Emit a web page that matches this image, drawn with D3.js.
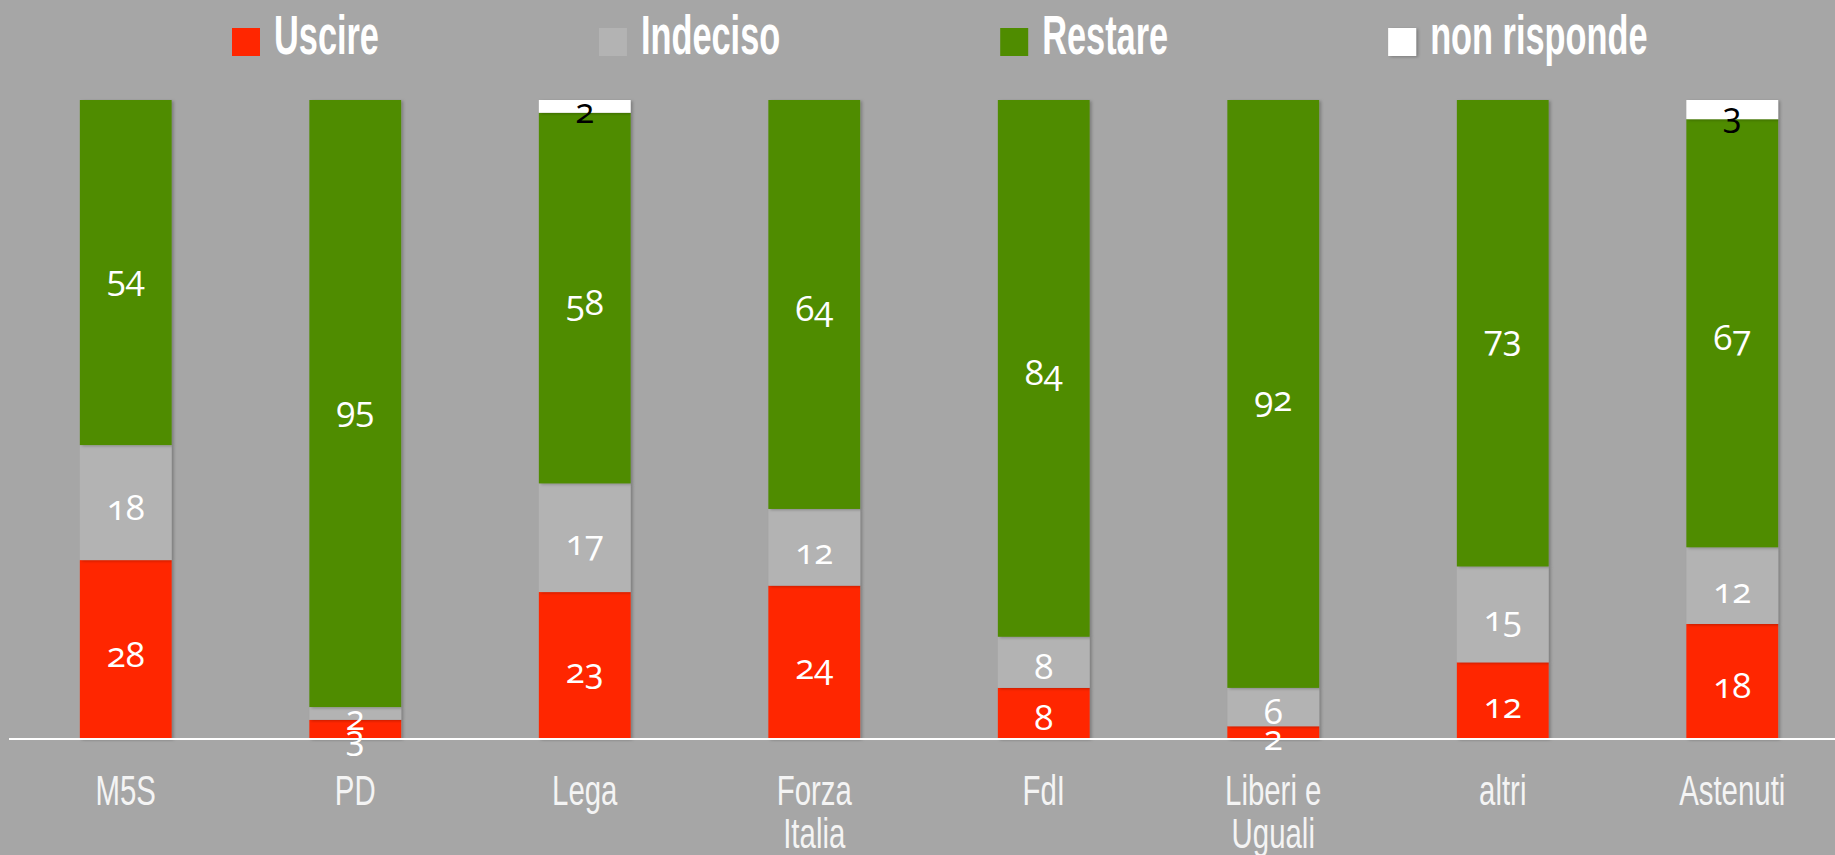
<!DOCTYPE html>
<html>
<head>
<meta charset="utf-8">
<script src="https://cdn.jsdelivr.net/npm/d3@7"></script>
<style>
	html, body { margin: 0; padding: 0; background: #a6a6a6; }
	svg { display: block; }
	.val { font-family: "Open Sans", "Noto Sans", sans-serif; font-size: 35px; font-feature-settings: "onum"; font-variant-numeric: oldstyle-nums; }
	.cat, .leg { font-family: "Liberation Sans Narrow", "Liberation Sans", sans-serif; }
</style>
</head>
<body>
<svg width="1835" height="855"></svg>
<script>
// data
var categories = ['M5S', 'PD', 'Lega', 'Forza Italia', 'FdI', 'Liberi e Uguali', 'altri', 'Astenuti'];
var uscire      = [28, 3, 23, 24, 8, 2, 12, 18];
var indeciso    = [18, 2, 17, 12, 8, 6, 15, 12];
var restare     = [54, 95, 58, 64, 84, 92, 73, 67];
var nonRisponde = [0, 0, 2, 0, 0, 0, 0, 3];

var seriesNames = ['Uscire', 'Indeciso', 'Restare', 'non risponde'];
var seriesColors = ['#ff2600', '#b3b3b3', '#4f8c00', '#ffffff'];
var labelColors = ['#ffffff', '#ffffff', '#ffffff', '#000000'];

var svg = d3.select('svg');

// soft shadow under the bars, like the office chart
var defs = svg.append('defs');
defs.append('filter').attr('id', 'shadow')
	.attr('x', '-20%').attr('y', '-20%').attr('width', '140%').attr('height', '140%')
	.append('feDropShadow')
	.attr('dx', 2).attr('dy', 1).attr('stdDeviation', 1.5)
	.attr('flood-color', '#000').attr('flood-opacity', 0.25);

var rows = categories.map(function(c, i){
	return { cat: c, Uscire: uscire[i], Indeciso: indeciso[i], Restare: restare[i], 'non risponde': nonRisponde[i] };
});

var stack = d3.stack().keys(seriesNames)(rows);

var x = d3.scaleBand()
	.domain(categories)
	.range([11, 1847])
	.paddingInner(0.6)
	.paddingOuter(0.3);

var y = d3.scaleLinear()
	.domain([0, 100])
	.range([739, 100]);

//bars
var layers = svg.append('g').selectAll('g')
	.data(stack)
	.enter()
	.append('g')
	.attr('fill', function(d, i){ return seriesColors[i]; });

layers.selectAll('rect')
	.data(function(d){ return d; })
	.enter()
	.append('rect')
	.filter(function(d){ return d[1] - d[0] > 0; })
	.attr('x', function(d){ return x(d.data.cat); })
	.attr('y', function(d){ return y(d[1]); })
	.attr('width', x.bandwidth())
	.attr('height', function(d){ return y(d[0]) - y(d[1]); })
	.attr('filter', 'url(#shadow)');

//axis line
var axis = svg.append('g')
	.attr('transform', 'translate(0,' + y(0) + ')')
	.call(d3.axisBottom(x).tickSize(0).tickFormat(''));
axis.select('.domain').attr('stroke', '#ffffff').attr('stroke-width', 2).attr('d', 'M9,0H1835');

//value labels, pushed down when they crowd each other
var minGap = 20;
categories.forEach(function(c, ci){
	var labs = [];
	for (var s = stack.length - 1; s >= 0; s--) {
		var seg = stack[s][ci];
		var v = seg[1] - seg[0];
		if (v <= 0) continue;
		labs.push({ v: v, s: s, cy: (y(seg[0]) + y(seg[1])) / 2 });
	}
	for (var k = 1; k < labs.length; k++) {
		if (labs[k].cy - labs[k - 1].cy < minGap) labs[k].cy = labs[k - 1].cy + minGap;
	}
	labs.forEach(function(l){
		svg.append('text')
			.attr('class', 'val')
			.attr('x', x(c) + x.bandwidth() / 2)
			.attr('y', l.cy + 17)
			.attr('text-anchor', 'middle')
			.attr('fill', labelColors[l.s])
			.text(l.v);
	});
});

//category labels (squeezed to look condensed)
var catScale = 0.7, catSize = 42, maxW = 120;
categories.forEach(function(c){
	var cx = x(c) + x.bandwidth() / 2;
	var g = svg.append('g').attr('transform', 'translate(' + cx + ',805) scale(' + catScale + ',1)');
	var words = c.split(' '), lines = [], line = '';
	var probe = g.append('text').attr('class', 'cat').attr('font-size', catSize);
	words.forEach(function(w){
		var test = line ? line + ' ' + w : w;
		probe.text(test);
		if (line && probe.node().getComputedTextLength() * catScale > maxW) {
			lines.push(line);
			line = w;
		} else {
			line = test;
		}
	});
	lines.push(line);
	probe.remove();
	lines.forEach(function(l, li){
		g.append('text')
			.attr('class', 'cat')
			.attr('font-size', catSize)
			.attr('y', li * 43)
			.attr('text-anchor', 'middle')
			.attr('fill', '#f4f4f4')
			.text(l);
	});
});

//legend - squeeze so that 'Uscire' is about 105px wide
var legSize = 55;
var probe = svg.append('text').attr('class', 'leg').attr('font-size', legSize).attr('font-weight', 'bold').text(seriesNames[0]);
var legScale = 105 / probe.node().getComputedTextLength();
probe.remove();

var lx = 232;
seriesNames.forEach(function(name, i){
	svg.append('rect')
		.attr('x', lx).attr('y', 28)
		.attr('width', 28).attr('height', 28)
		.attr('fill', seriesColors[i])
		.attr('filter', i == 3 ? 'url(#shadow)' : null);
	var t = svg.append('text')
		.attr('class', 'leg')
		.attr('font-size', legSize)
		.attr('font-weight', 'bold')
		.attr('fill', '#ffffff')
		.attr('transform', 'translate(' + (lx + 42) + ',54) scale(' + legScale + ',1)')
		.text(name);
	var tw = t.node().getComputedTextLength() * legScale;
	lx = lx + 42 + tw + 220;
});
</script>
</body>
</html>
